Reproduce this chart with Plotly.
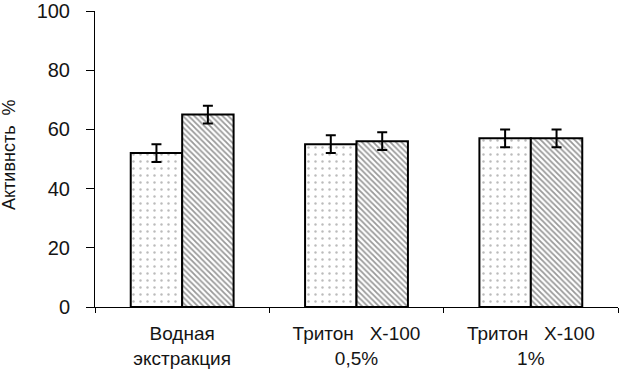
import plotly.graph_objects as go

NB = "\u00a0"
categories = ["Водная<br>экстракция",
              "Тритон" + NB * 3 + "Х-100<br>0,5%",
              "Тритон" + NB * 3 + "Х-100<br>1%"]
series1 = [52, 55, 57]
series1_err = [3, 3, 3]
series2 = [65, 56, 57]
series2_err = [3, 3, 3]
y_ticks = [0, 20, 40, 60, 80, 100]
y_title = "Активнсть" + NB * 2 + "%"

fig = go.Figure()
fig.add_trace(go.Bar(
    x=categories, y=series1,
    error_y=dict(type="data", array=series1_err, color="black", thickness=2, width=5),
    marker=dict(color="white", line=dict(color="black", width=2),
                pattern=dict(shape=".", size=7, solidity=0.1, fgcolor="#777777", bgcolor="white")),
    showlegend=False,
))
fig.add_trace(go.Bar(
    x=categories, y=series2,
    error_y=dict(type="data", array=series2_err, color="black", thickness=2, width=5),
    marker=dict(color="white", line=dict(color="black", width=2),
                pattern=dict(shape="\\", size=4, solidity=0.45, fgcolor="#333333", bgcolor="white")),
    showlegend=False,
))

fig.update_layout(
    width=619, height=376,
    margin=dict(l=95, r=1, t=11, b=69),
    barmode="group", bargap=0.41, bargroupgap=0,
    plot_bgcolor="white", paper_bgcolor="white",
    font=dict(family="Liberation Sans, Arial, sans-serif", color="#151515"),
)
fig.update_yaxes(
    range=[0, 100], tickvals=y_ticks, showgrid=False, zeroline=False,
    showline=True, linecolor="black", linewidth=1,
    ticks="outside", ticklen=8, tickcolor="black", tickfont=dict(size=20),
    ticklabelstandoff=12,
)
fig.update_xaxes(
    showline=True, linecolor="black", linewidth=1, showgrid=False,
    ticks="outside", tickson="boundaries", ticklen=5, tickcolor="black",
    tickfont=dict(size=19), ticklabelstandoff=9,
)
fig.add_annotation(
    text=y_title, textangle=-90, showarrow=False,
    xref="paper", yref="paper", x=0, y=0.5, xanchor="center", yanchor="middle",
    xshift=-86, yshift=4, font=dict(size=18),
)
fig.write_html("out.html", config={"displayModeBar": False},
               post_script="document.body.style.margin='0';")
